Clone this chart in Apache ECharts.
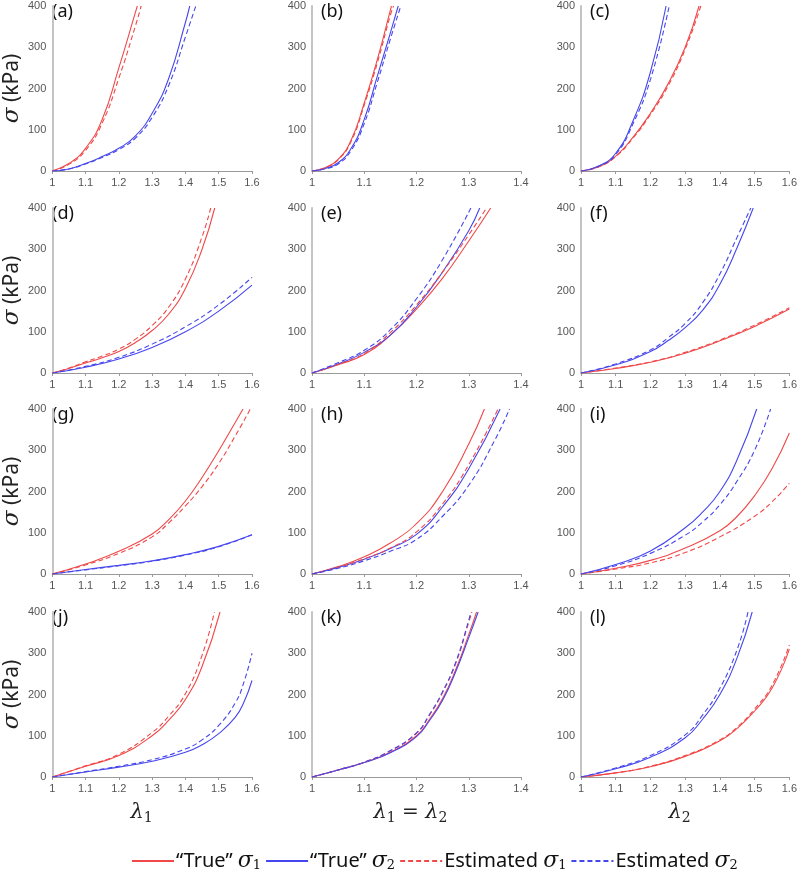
<!DOCTYPE html>
<html>
<head>
<meta charset="utf-8">
<script src="https://cdn.jsdelivr.net/npm/echarts@6/dist/echarts.min.js"></script>
<style>html,body{margin:0;padding:0;background:#fff}#c{width:800px;height:872px}</style>
</head>
<body>
<div id="c"></div>
<script>
// ---- data: [lambda, sigma (kPa)] ----
const panelLabels = ['(a)','(b)','(c)','(d)','(e)','(f)','(g)','(h)','(i)','(j)','(k)','(l)'];
const xMaxByCol = [1.6, 1.4, 1.6];
const yTicks = [0, 100, 200, 300, 400];
const seriesNames = ['True σ1', 'True σ2', 'Estimated σ1', 'Estimated σ2'];

// (a)
const aT1 = [[1,0],[1.05,18],[1.1,55],[1.15,125],[1.2,250],[1.25,385],[1.2555,400]];
const aT2 = [[1,0],[1.05,5],[1.1,18],[1.15,35],[1.2,55],[1.25,85],[1.3,140],[1.35,225],[1.4,360],[1.413,400]];
const aE1 = [[1,0],[1.05,16],[1.1,50],[1.15,116],[1.2,225],[1.25,352],[1.267,400]];
const aE2 = [[1,0],[1.05,5],[1.1,17],[1.15,33],[1.2,52],[1.25,80],[1.3,130],[1.35,208],[1.4,325],[1.431,400]];
// (b)
const bT1 = [[1,0],[1.025,8],[1.05,28],[1.075,75],[1.1,165],[1.125,270],[1.15,390],[1.152,400]];
const bT2 = [[1,0],[1.025,6],[1.05,20],[1.075,55],[1.1,125],[1.125,230],[1.15,335],[1.165,400]];
const bE1 = [[1,0],[1.025,8],[1.05,27],[1.075,72],[1.1,160],[1.125,262],[1.15,378],[1.156,400]];
const bE2 = [[1,0],[1.025,5],[1.05,17],[1.075,50],[1.1,115],[1.125,215],[1.15,320],[1.17,400]];
// (c)
const cT1 = [[1,0],[1.05,10],[1.1,36],[1.15,82],[1.2,140],[1.25,210],[1.3,300],[1.34,400]];
const cT2 = [[1,0],[1.05,12],[1.1,43],[1.15,122],[1.2,240],[1.245,400]];
const cE1 = [[1,0],[1.05,10],[1.1,35],[1.15,80],[1.2,137],[1.25,205],[1.3,295],[1.345,400]];
const cE2 = [[1,0],[1.05,11],[1.1,40],[1.15,115],[1.2,222],[1.254,400]];
// (d)
const dT1 = [[1,0],[1.05,11],[1.1,24],[1.15,37],[1.2,52],[1.25,74],[1.3,103],[1.35,143],[1.4,205],[1.45,300],[1.488,400]];
const dT2 = [[1,0],[1.1,14],[1.2,34],[1.3,62],[1.4,100],[1.5,150],[1.6,213]];
const dE1 = [[1,0],[1.05,12],[1.1,27],[1.15,41],[1.2,58],[1.25,82],[1.3,115],[1.35,160],[1.4,228],[1.45,330],[1.476,400]];
const dE2 = [[1,0],[1.1,16],[1.2,38],[1.3,70],[1.4,112],[1.5,165],[1.6,232]];
// (e)
const eT1 = [[1,0],[1.05,20],[1.1,45],[1.15,92],[1.2,155],[1.25,230],[1.3,320],[1.342,400]];
const eT2 = [[1,0],[1.05,22],[1.1,50],[1.15,92],[1.2,160],[1.25,245],[1.3,345],[1.321,400]];
const eE1 = [[1,0],[1.05,21],[1.1,47],[1.15,98],[1.2,165],[1.25,245],[1.3,335],[1.334,400]];
const eE2 = [[1,0],[1.05,25],[1.1,55],[1.15,105],[1.2,180],[1.25,275],[1.304,400]];
// (f)
const fT1 = [[1,0],[1.1,11],[1.2,26],[1.3,48],[1.4,78],[1.5,113],[1.6,155]];
const fT2 = [[1,0],[1.1,20],[1.2,52],[1.25,78],[1.3,110],[1.35,152],[1.4,215],[1.45,305],[1.496,400]];
const fE1 = [[1,0],[1.1,12],[1.2,27],[1.3,50],[1.4,80],[1.5,116],[1.6,158]];
const fE2 = [[1,0],[1.1,22],[1.2,56],[1.25,85],[1.3,120],[1.35,170],[1.4,240],[1.45,330],[1.489,400]];
// (g)
const gT1 = [[1,0],[1.1,24],[1.2,55],[1.3,97],[1.35,132],[1.4,177],[1.45,234],[1.5,299],[1.55,368],[1.573,400]];
const gT2 = [[1,0],[1.1,11],[1.2,21],[1.3,32],[1.4,47],[1.5,67],[1.6,95]];
const gE1 = [[1,0],[1.1,22],[1.2,50],[1.3,90],[1.35,124],[1.4,165],[1.45,212],[1.5,268],[1.55,335],[1.595,400]];
const gE2 = [[1,0],[1.1,10],[1.2,20],[1.3,31],[1.4,46],[1.5,66],[1.6,95]];
// (h)
const hT1 = [[1,0],[1.05,18],[1.1,42],[1.15,75],[1.2,122],[1.25,200],[1.3,315],[1.33,400]];
const hT2 = [[1,0],[1.05,16],[1.1,36],[1.15,62],[1.2,96],[1.25,163],[1.3,255],[1.36,400]];
const hE1 = [[1,0],[1.05,16],[1.1,37],[1.15,63],[1.2,102],[1.25,170],[1.3,265],[1.356,400]];
const hE2 = [[1,0],[1.05,14],[1.1,32],[1.15,55],[1.2,84],[1.25,140],[1.3,215],[1.35,325],[1.378,400]];
// (i)
const iT1 = [[1,0],[1.1,14],[1.2,33],[1.3,63],[1.4,105],[1.45,140],[1.5,190],[1.55,255],[1.6,342]];
const iT2 = [[1,0],[1.1,23],[1.2,56],[1.3,112],[1.35,150],[1.4,200],[1.45,278],[1.506,400]];
const iE1 = [[1,0],[1.1,12],[1.2,27],[1.3,52],[1.4,90],[1.5,140],[1.55,175],[1.6,220]];
const iE2 = [[1,0],[1.1,20],[1.2,50],[1.3,94],[1.35,126],[1.4,168],[1.45,226],[1.5,300],[1.546,400]];
// (j)
const jT1 = [[1,0],[1.1,26],[1.2,52],[1.3,100],[1.35,138],[1.4,188],[1.45,268],[1.504,400]];
const jT2 = [[1,0],[1.1,12],[1.2,24],[1.3,38],[1.4,60],[1.45,78],[1.5,105],[1.55,145],[1.575,180],[1.6,234]];
const jE1 = [[1,0],[1.1,27],[1.2,55],[1.3,108],[1.35,148],[1.4,202],[1.45,295],[1.487,400]];
const jE2 = [[1,0],[1.1,13],[1.2,26],[1.3,42],[1.4,68],[1.45,90],[1.5,125],[1.55,180],[1.575,228],[1.6,300]];
// (k)
const kT1 = [[1,0],[1.05,17],[1.1,35],[1.15,60],[1.2,100],[1.225,140],[1.25,190],[1.275,260],[1.3,345],[1.315,400]];
const kT2 = [[1,0],[1.05,17],[1.1,35],[1.15,59],[1.2,98],[1.225,137],[1.25,186],[1.275,255],[1.3,338],[1.318,400]];
const kE1 = [[1,0],[1.05,17],[1.1,36],[1.15,63],[1.2,106],[1.225,150],[1.25,205],[1.275,275],[1.3,375],[1.306,400]];
const kE2 = [[1,0],[1.05,17],[1.1,36],[1.15,64],[1.2,107],[1.225,152],[1.25,207],[1.275,278],[1.3,380],[1.304,400]];
// (l)
const lT1 = [[1,0],[1.1,10],[1.2,25],[1.3,50],[1.4,88],[1.45,118],[1.5,160],[1.55,215],[1.6,310]];
const lT2 = [[1,0],[1.1,20],[1.2,48],[1.3,95],[1.35,140],[1.4,200],[1.45,290],[1.493,400]];
const lE1 = [[1,0],[1.1,10],[1.2,26],[1.3,52],[1.4,90],[1.45,121],[1.5,165],[1.55,222],[1.6,320]];
const lE2 = [[1,0],[1.1,22],[1.2,52],[1.3,102],[1.35,150],[1.4,215],[1.45,310],[1.481,400]];

const panelData = [
  [aT1,aT2,aE1,aE2],[bT1,bT2,bE1,bE2],[cT1,cT2,cE1,cE2],
  [dT1,dT2,dE1,dE2],[eT1,eT2,eE1,eE2],[fT1,fT2,fE1,fE2],
  [gT1,gT2,gE1,gE2],[hT1,hT2,hE1,hE2],[iT1,iT2,iE1,iE2],
  [jT1,jT2,jE1,jE2],[kT1,kT2,kE1,kE2],[lT1,lT2,lE1,lE2]
];

// ---- layout / style ----
const RED = '#f04848', BLUE = '#4646ee';
const colLeft = [43, 312, 581];
const rowTop = [6, 208, 409, 612];
const gW = 209, gH = 165;
const styles = [
  {color: RED, type: 'solid'}, {color: BLUE, type: 'solid'},
  {color: RED, type: [5, 3]}, {color: BLUE, type: [5, 3]}
];

const grids = [], xAxes = [], yAxes = [], series = [], graphics = [];
for (let p = 0; p < 12; p++) {
  const r = Math.floor(p / 3), c = p % 3;
  grids.push({left: colLeft[c], top: rowTop[r], width: gW, height: gH, containLabel: false});
  xAxes.push({
    type: 'value', gridIndex: p, min: 1, max: xMaxByCol[c], interval: 0.1,
    axisLine: {onZero: false, lineStyle: {color: '#9a9a9a', width: 1}},
    axisTick: {show: true, length: 3, lineStyle: {color: '#9a9a9a'}},
    axisLabel: {color: '#555', fontSize: 11, fontFamily: 'Liberation Sans', margin: 6,
      formatter: v => String(Math.round(v * 10) / 10)},
    splitLine: {show: false}
  });
  yAxes.push({
    type: 'value', gridIndex: p, min: 0, max: 400, interval: 100,
    axisLine: {show: true, lineStyle: {color: '#c4c4c4', width: 2}},
    axisTick: {show: false},
    axisLabel: {color: '#555', fontSize: 11, fontFamily: 'Liberation Sans', margin: 6},
    splitLine: {show: false},
    name: c === 0 ? '{s|σ} (kPa)' : '',
    nameLocation: 'middle', nameGap: 25, nameRotate: 90,
    nameTextStyle: {fontSize: 21, fontFamily: 'Noto Sans', color: '#222',
      rich: {s: {fontSize: 23, fontStyle: 'italic', fontFamily: 'DejaVu Serif', color: '#222'}}}
  });
  panelData[p].forEach((d, k) => {
    series.push({
      type: 'line', name: seriesNames[k], xAxisIndex: p, yAxisIndex: p,
      data: d, showSymbol: false, symbol: 'none', smooth: 0.5,
      lineStyle: {color: styles[k].color, type: styles[k].type, width: 1.1},
      itemStyle: {color: styles[k].color}, z: 3, silent: true
    });
  });
  graphics.push({
    type: 'text', left: colLeft[c] + 9, top: rowTop[r] - 3,
    style: {text: panelLabels[p], font: '18px "Noto Sans"', fill: '#111'}
  });
}

// x axis titles
const xTitleRich = ['{m|λ}{s|1}', '{m|λ}{s|1}{n| = }{m|λ}{s|2}', '{m|λ}{s|2}'];
xTitleRich.forEach((t, c) => {
  graphics.push({
    type: 'text', x: colLeft[c] + gW / 2 - 6, y: 813,
    style: {
      text: t, align: 'center', verticalAlign: 'middle',
      rich: {
        m: {fontSize: 21, fontStyle: 'italic', fontFamily: 'DejaVu Serif', fill: '#222'},
        s: {fontSize: 14, fontFamily: 'DejaVu Serif', fill: '#222', padding: [10, 0, 0, 0]},
        n: {fontSize: 20, fontFamily: 'DejaVu Serif', fill: '#222'}
      }
    }
  });
});

const legendLabel = {
  'True σ1': '“True” {m|σ}{s|1}',
  'True σ2': '“True” {m|σ}{s|2}',
  'Estimated σ1': 'Estimated {m|σ}{s|1}',
  'Estimated σ2': 'Estimated {m|σ}{s|2}'
};

const chart = echarts.init(document.getElementById('c'), null, {renderer: 'canvas'});
chart.setOption({
  animation: false,
  grid: grids, xAxis: xAxes, yAxis: yAxes, series: series,
  graphic: graphics,
  legend: {
    data: seriesNames, top: 845, left: 126,
    itemWidth: 42, itemHeight: 10, itemGap: 4,
    selectedMode: false,
    itemStyle: {opacity: 0, borderWidth: 0},
    formatter: n => legendLabel[n],
    textStyle: {
      fontSize: 20, fontFamily: 'Noto Sans', color: '#111', padding: [0, 0, 0, -3],
      rich: {
        m: {fontSize: 22, fontStyle: 'italic', fontFamily: 'DejaVu Serif', color: '#111'},
        s: {fontSize: 13, fontFamily: 'DejaVu Serif', color: '#111', padding: [10, 0, 0, 0]}
      }
    }
  }
});
</script>
</body>
</html>
